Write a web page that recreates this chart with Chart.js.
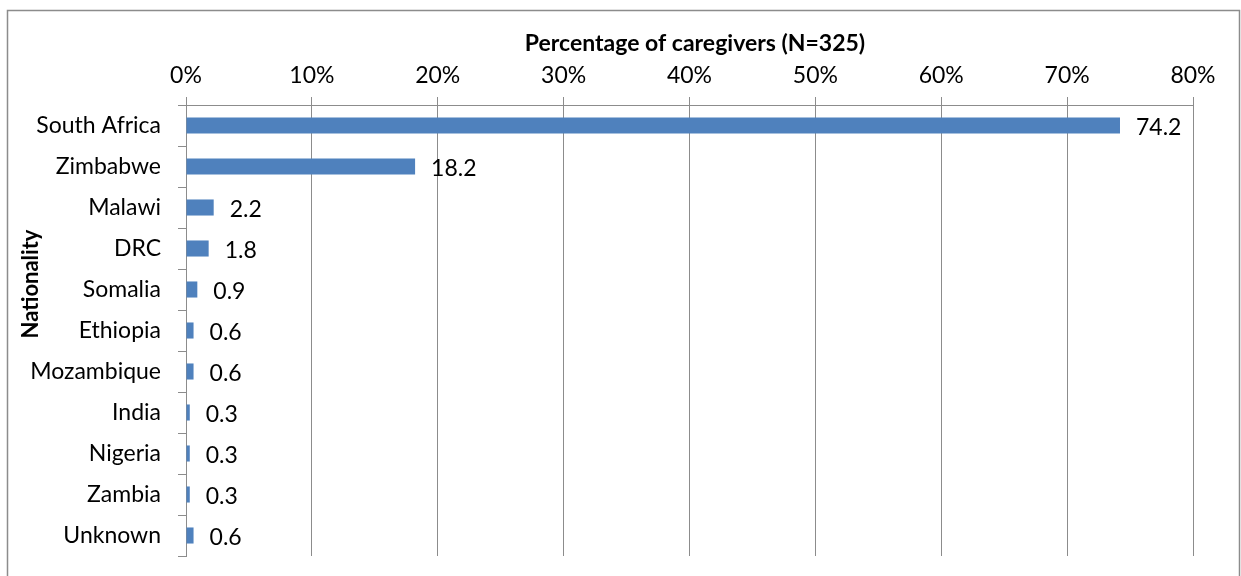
<!DOCTYPE html>
<html><head><meta charset="utf-8">
<script src="https://cdn.jsdelivr.net/npm/chart.js@4.4.1/dist/chart.umd.min.js"></script>
<style>html,body{margin:0;padding:0;background:#fff;}#wrap{width:1241px;height:576px;position:relative;}</style>
</head><body><div id="wrap"><canvas id="c" width="1241" height="576"></canvas></div>
<script>
const categories = ["South Africa","Zimbabwe","Malawi","DRC","Somalia","Ethiopia","Mozambique","India","Nigeria","Zambia","Unknown"];
const values = [74.2,18.2,2.2,1.8,0.9,0.6,0.6,0.3,0.3,0.3,0.6];
const xTicks = [0,10,20,30,40,50,60,70,80];
const xTitle = "Percentage of caregivers (N=325)";
const yTitle = "Nationality";

const FONT = "Lato, 'Open Sans', sans-serif";
const GRID = "#8c8c8c";
const FS = 23;

const frame = {
  id:'frame',
  beforeDraw(chart){
    const ctx = chart.ctx;
    ctx.save();
    ctx.strokeStyle = "#8c8c8c"; ctx.lineWidth = 1.5;
    ctx.strokeRect(7.5, 10.5, 1232, 600);
    ctx.restore();
  }
};
const titles = {
  id:'titles',
  afterDraw(chart){
    const ctx = chart.ctx;
    ctx.save();
    ctx.fillStyle = "#000";
    ctx.textAlign = "center"; ctx.textBaseline = "middle";
    ctx.font = "bold " + FS + "px " + FONT;
    ctx.fillText(xTitle, 695, 44);
    ctx.translate(31, 284);
    ctx.rotate(-Math.PI/2);
    ctx.font = "bold " + (FS-1) + "px " + FONT;
    ctx.fillText(yTitle, 0, 0);
    ctx.restore();
  }
};
const labels = {
  id:'labels',
  afterDatasetsDraw(chart){
    const ctx = chart.ctx;
    const meta = chart.getDatasetMeta(0);
    ctx.save();
    ctx.font = FS + "px " + FONT;
    ctx.fillStyle = "#000";
    ctx.textBaseline = "middle";
    meta.data.forEach((bar,i)=>{
      ctx.fillText(values[i].toFixed(1), bar.x + 16, bar.y + 2);
    });
    ctx.restore();
  }
};

new Chart(document.getElementById('c'), {
  type:'bar',
  data:{labels:categories, datasets:[{data:values, backgroundColor:"#4F81BD", borderWidth:0, barPercentage:0.8, categoryPercentage:0.49}]},
  options:{
    indexAxis:'y', responsive:false, animation:false,
    layout:{padding:{left:0, right:48, top:0, bottom:20}},
    plugins:{legend:{display:false}, tooltip:{enabled:false}},
    scales:{
      x:{position:'top', min:0, max:80,
        afterBuildTicks(s){ s.ticks = xTicks.map(v=>({value:v})); },
        afterFit(s){ s.height = 105; s.paddingLeft = 0; s.paddingRight = 0; },
        ticks:{callback:v=>v+'%', color:'#000', font:{size:FS, family:FONT}, padding:8, maxRotation:0},
        grid:{color:GRID, lineWidth:1, tickLength:8, drawOnChartArea:true},
        border:{color:GRID, width:1}
      },
      y:{
        afterFit(s){ s.width = 186; s.paddingTop = 0; s.paddingBottom = 0; },
        ticks:{color:'#000', font:{size:23, family:FONT}, padding:17, autoSkip:false},
        grid:{color:GRID, lineWidth:1, tickLength:8, drawOnChartArea:false, offset:true},
        border:{color:GRID, width:1}
      }
    }
  },
  plugins:[frame, labels, titles]
});
</script></body></html>
